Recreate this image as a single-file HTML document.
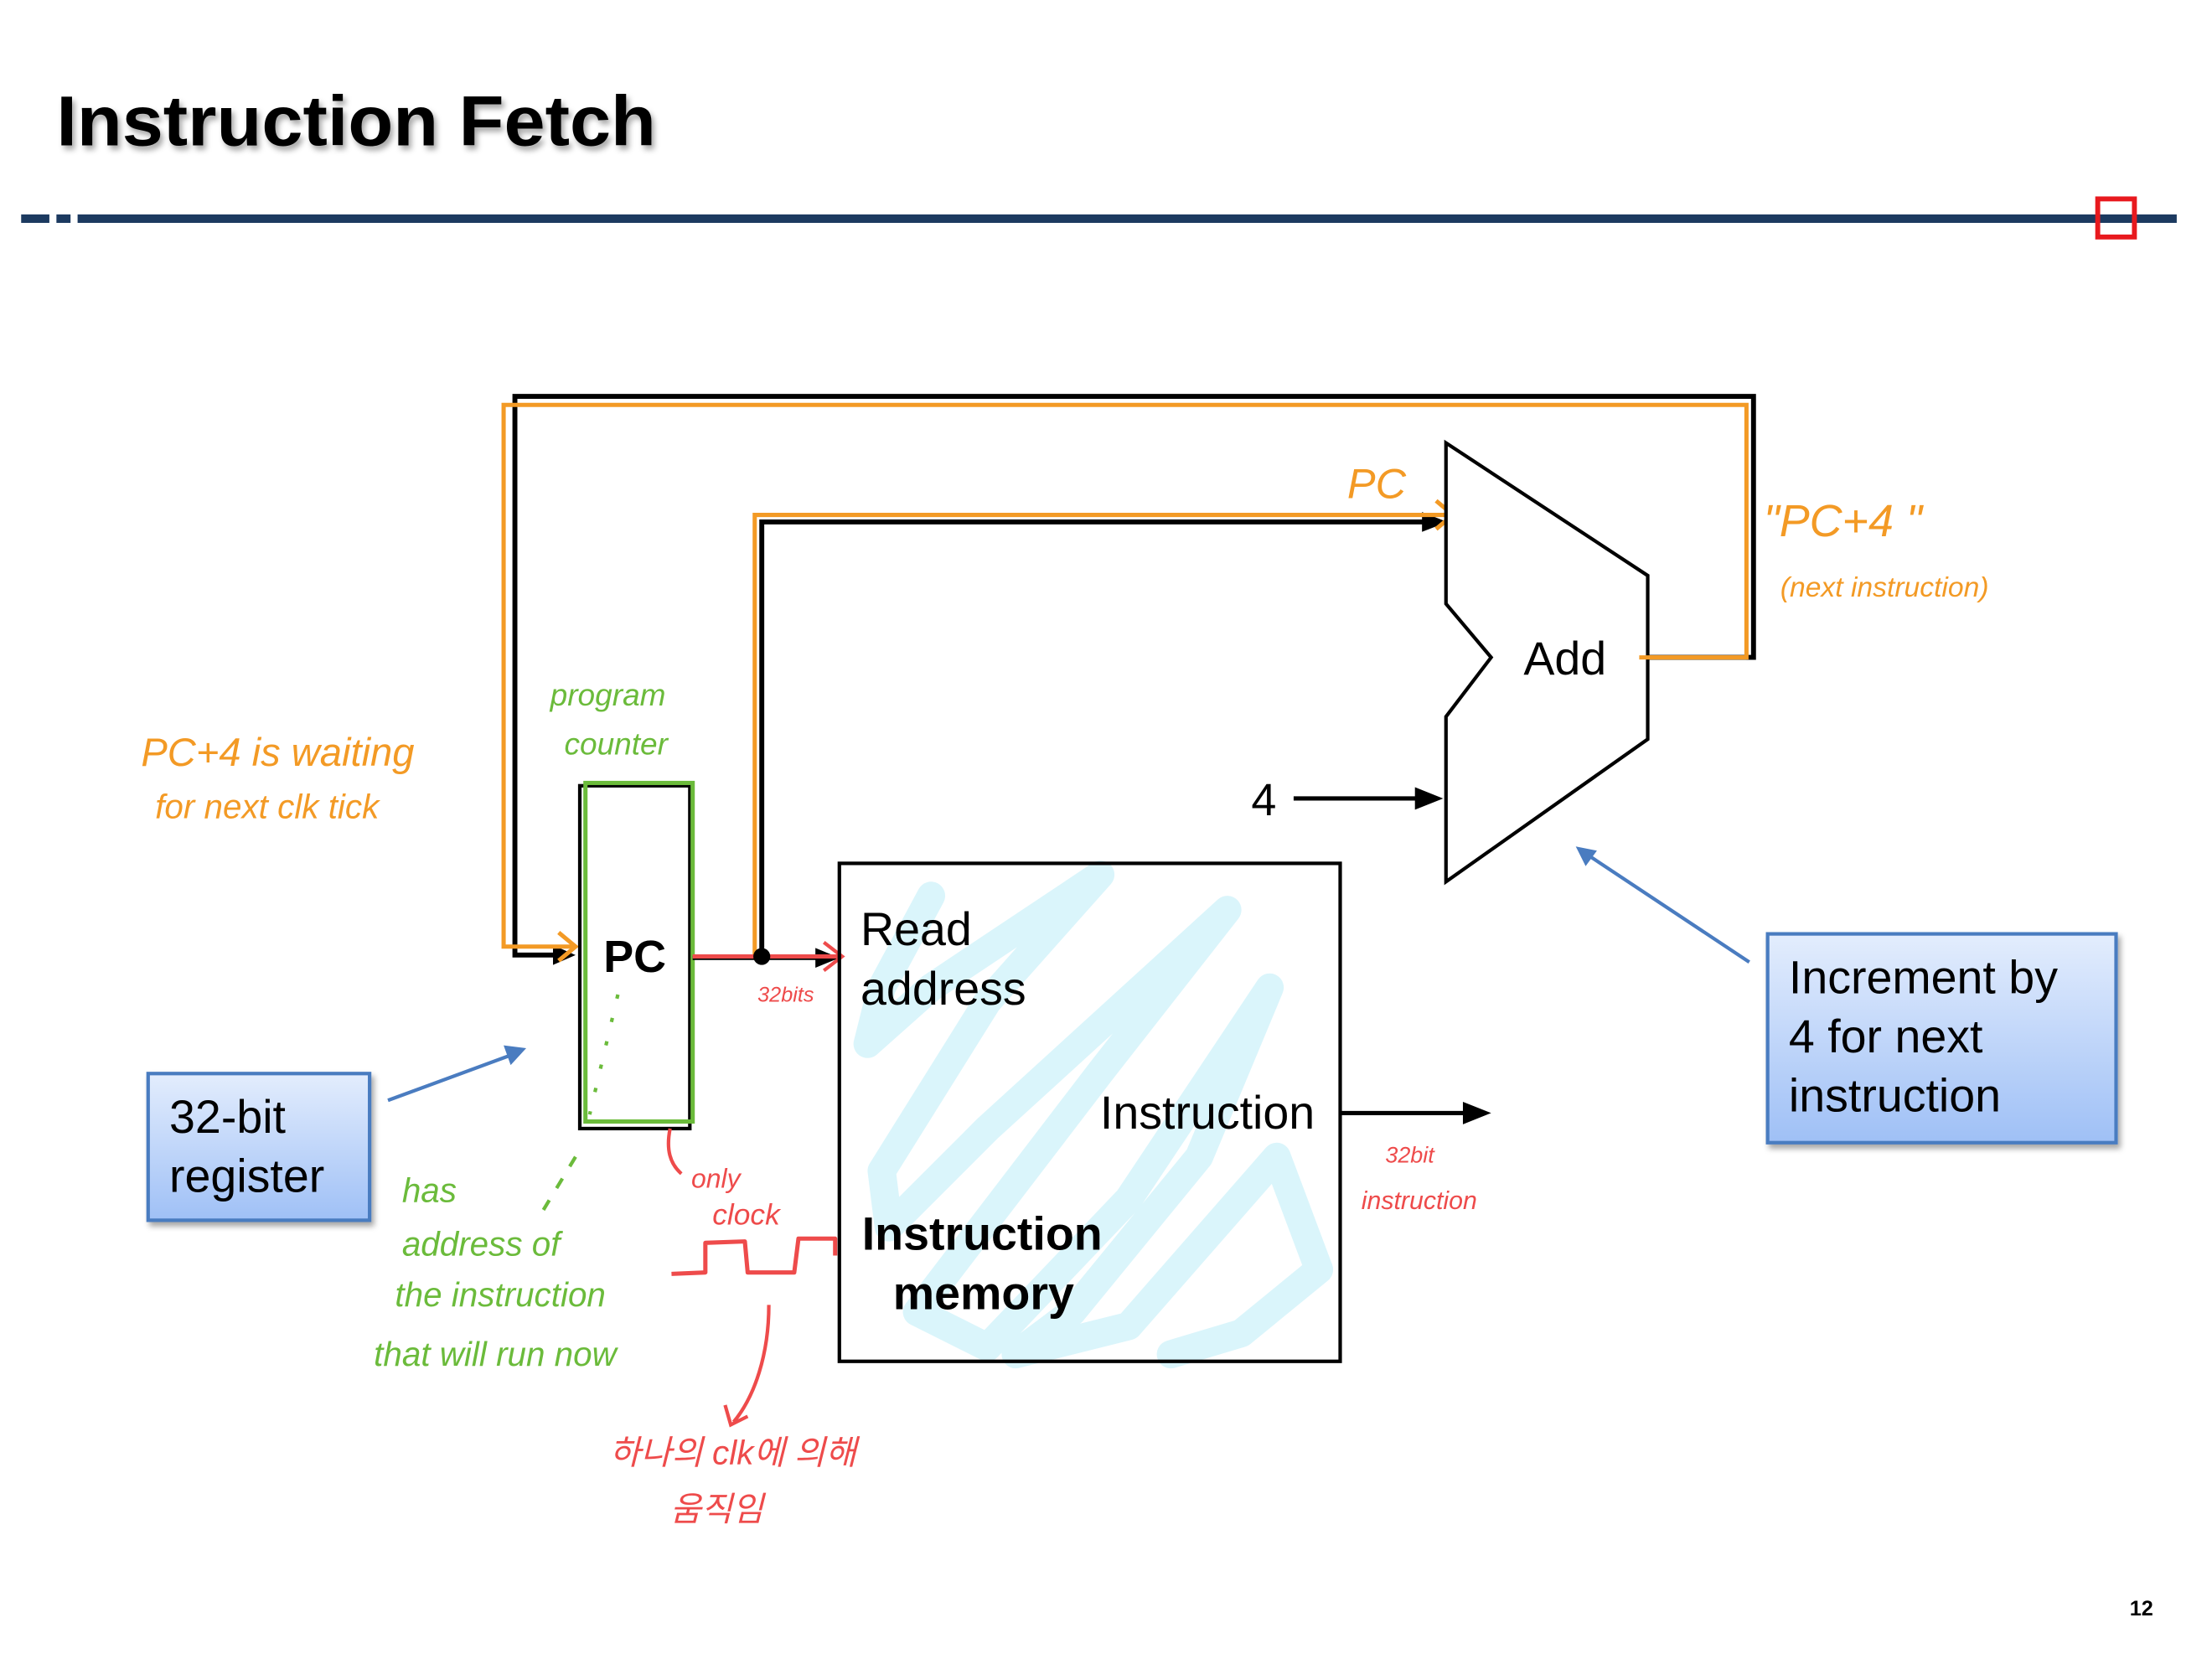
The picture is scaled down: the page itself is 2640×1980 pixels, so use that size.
<!DOCTYPE html>
<html><head><meta charset="utf-8"><style>
html,body{margin:0;padding:0;background:#fff;}
svg{display:block;}
.hw{font-family:"Liberation Sans","Noto Sans CJK KR",sans-serif;font-style:italic;}
</style></head><body>
<svg width="2640" height="1980" viewBox="0 0 1568 1176" preserveAspectRatio="none" xmlns="http://www.w3.org/2000/svg">
<defs>
<linearGradient id="bg" x1="0" y1="0" x2="0" y2="1">
<stop offset="0" stop-color="#e3edfd"/><stop offset="1" stop-color="#9fc0f6"/></linearGradient>
<filter id="sh" x="-5%" y="-5%" width="115%" height="130%"><feDropShadow dx="2" dy="3" stdDeviation="2" flood-color="#000" flood-opacity="0.35"/></filter>
</defs>
<text x="40" y="103" font-family="Liberation Sans, sans-serif" font-weight="bold" font-size="50" textLength="425" lengthAdjust="spacingAndGlyphs" filter="url(#sh)">Instruction Fetch</text>
<rect x="15" y="152" width="20" height="6" fill="#1c3a60"/>
<rect x="40" y="152" width="10" height="6" fill="#1c3a60"/>
<rect x="55" y="152" width="1488" height="6" fill="#1c3a60"/>
<rect x="1487" y="141" width="26" height="27" fill="none" stroke="#e8191e" stroke-width="3.5"/>

<g fill="none" stroke="#daf5fb" stroke-width="20" stroke-linecap="round" stroke-linejoin="round">
<path d="M660 635 L625 700 L615 740 L660 700 L780 620 L700 710 L625 830 L630 870 L700 800 L870 645 L780 760 L650 930 L700 955 L800 850 L900 700 L850 820 L760 930 L720 960 L800 940 L905 820 L935 900 L880 945 L830 960"/>
</g>

<polyline points="1160,466 1243,466 1243,281 365,281 365,677 398,677" fill="none" stroke="#000" stroke-width="3.5"/>
<polygon points="408,677 392,670 392,684" fill="#000"/>
<polyline points="1162,466 1238,466 1238,287 357,287 357,671 406,671" fill="none" stroke="#f39a25" stroke-width="3"/>
<polyline points="396,661 408,671 396,681" fill="none" stroke="#f39a25" stroke-width="3"/>

<polyline points="540,677 540,370 1015,370" fill="none" stroke="#000" stroke-width="3.5"/>
<polygon points="1026,370 1008,363 1008,377" fill="#000"/>
<polyline points="535,677 535,365 1030,365" fill="none" stroke="#f39a25" stroke-width="3"/>
<polyline points="1018,355 1030,365 1018,375" fill="none" stroke="#f39a25" stroke-width="3"/>

<rect x="411" y="557" width="78" height="243" fill="#fff" stroke="#000" stroke-width="2.5"/>
<rect x="415" y="555" width="76" height="240" fill="none" stroke="#6bbb3b" stroke-width="3"/>
<text x="450" y="689" font-family="Liberation Sans, sans-serif" font-weight="bold" font-size="32" text-anchor="middle">PC</text>
<path d="M438 705 L418 790" stroke="#6bbb3b" stroke-width="2.5" stroke-dasharray="3 14" fill="none"/>

<line x1="491" y1="679" x2="585" y2="679" stroke="#000" stroke-width="3"/>
<polygon points="595,679 578,672 578,686" fill="#000"/>
<line x1="491" y1="678" x2="596" y2="678" stroke="#ee4b4b" stroke-width="3"/>
<polyline points="584,668 597,678 584,688" fill="none" stroke="#ee4b4b" stroke-width="2.5"/>
<circle cx="540" cy="678" r="6" fill="#000"/>
<text x="537" y="710" class="hw" font-size="15" fill="#ee4b4b">32bits</text>

<rect x="595" y="612" width="355" height="353" fill="none" stroke="#000" stroke-width="2.5"/>
<text x="610" y="670" font-family="Liberation Sans, sans-serif" font-size="33">Read</text>
<text x="610" y="712" font-family="Liberation Sans, sans-serif" font-size="33">address</text>
<text x="932" y="800" font-family="Liberation Sans, sans-serif" font-size="33" text-anchor="end">Instruction</text>
<text x="611" y="886" font-family="Liberation Sans, sans-serif" font-weight="bold" font-size="33">Instruction</text>
<text x="633" y="928" font-family="Liberation Sans, sans-serif" font-weight="bold" font-size="33">memory</text>

<line x1="950" y1="789" x2="1040" y2="789" stroke="#000" stroke-width="3"/>
<polygon points="1057,789 1037,781 1037,797" fill="#000"/>
<text x="982" y="824" class="hw" font-size="16" fill="#ee4b4b">32bit</text>
<text x="965" y="857" class="hw" font-size="18" fill="#ee4b4b">instruction</text>

<polygon points="1025,314 1168,408 1168,524 1025,625 1025,508 1057,466 1025,428" fill="#fff" stroke="#000" stroke-width="2.5"/>
<text x="1080" y="478" font-family="Liberation Sans, sans-serif" font-size="33">Add</text>
<line x1="1162" y1="466" x2="1238" y2="466" stroke="#f39a25" stroke-width="3"/>
<text x="887" y="578" font-family="Liberation Sans, sans-serif" font-size="32">4</text>
<line x1="917" y1="566" x2="1005" y2="566" stroke="#000" stroke-width="3"/>
<polygon points="1023,566 1003,558 1003,574" fill="#000"/>

<rect x="105" y="761" width="157" height="104" fill="url(#bg)" stroke="#4a7cc0" stroke-width="2.5" filter="url(#sh)"/>
<text x="120" y="803" font-family="Liberation Sans, sans-serif" font-size="33">32-bit</text>
<text x="120" y="845" font-family="Liberation Sans, sans-serif" font-size="33">register</text>
<line x1="275" y1="780" x2="362" y2="748" stroke="#4a7cc0" stroke-width="2.5"/>
<polygon points="373,743 357,741 362,755" fill="#4a7cc0"/>
<rect x="1253" y="662" width="247" height="148" fill="url(#bg)" stroke="#4a7cc0" stroke-width="2.5" filter="url(#sh)"/>
<text x="1268" y="704" font-family="Liberation Sans, sans-serif" font-size="33">Increment by</text>
<text x="1268" y="746" font-family="Liberation Sans, sans-serif" font-size="33">4 for next</text>
<text x="1268" y="788" font-family="Liberation Sans, sans-serif" font-size="33">instruction</text>
<line x1="1240" y1="682" x2="1127" y2="607" stroke="#4a7cc0" stroke-width="2.5"/>
<polygon points="1117,600 1124,614 1132,603" fill="#4a7cc0"/>

<text x="955" y="353" class="hw" font-size="30" fill="#f39a25">PC</text>
<text x="1250" y="380" class="hw" font-size="32" fill="#f39a25">"PC+4 "</text>
<text x="1262" y="423" class="hw" font-size="20" fill="#f39a25">(next  instruction)</text>
<text x="100" y="543" class="hw" font-size="28" fill="#f39a25">PC+4 is waiting</text>
<text x="110" y="580" class="hw" font-size="24" fill="#f39a25">for next clk tick</text>

<text x="390" y="500" class="hw" font-size="22" fill="#6bbb3b">program</text>
<text x="400" y="535" class="hw" font-size="22" fill="#6bbb3b">counter</text>
<path d="M408 820 L385 858" stroke="#6bbb3b" stroke-width="2.5" stroke-dasharray="8 10" fill="none"/>
<text x="285" y="852" class="hw" font-size="24" fill="#6bbb3b">has</text>
<text x="285" y="890" class="hw" font-size="24" fill="#6bbb3b">address  of</text>
<text x="280" y="926" class="hw" font-size="24" fill="#6bbb3b">the instruction</text>
<text x="265" y="968" class="hw" font-size="24" fill="#6bbb3b">that  will  run  now</text>

<path d="M475 800 C472 815 475 825 483 832" fill="none" stroke="#ee4b4b" stroke-width="2.5"/>
<text x="490" y="842" class="hw" font-size="19" fill="#ee4b4b">only</text>
<text x="505" y="868" class="hw" font-size="21" fill="#ee4b4b">clock</text>
<polyline points="476,903 500,902 500,881 528,880 530,902 563,902 566,878 592,878 592,890" fill="none" stroke="#ee4b4b" stroke-width="3" stroke-linejoin="round"/>
<path d="M545 925 C545 960 535 990 520 1008" fill="none" stroke="#ee4b4b" stroke-width="2.5"/>
<polyline points="514,996 518,1010 530,1004" fill="none" stroke="#ee4b4b" stroke-width="2.5"/>
<text x="432" y="1038" class="hw" font-size="24" fill="#ee4b4b">하나의 clk에 의해</text>
<text x="475" y="1078" class="hw" font-size="24" fill="#ee4b4b">움직임</text>

<text x="1518" y="1145" font-family="Liberation Sans, sans-serif" font-weight="bold" font-size="15" text-anchor="middle">12</text>
</svg>
</body></html>
